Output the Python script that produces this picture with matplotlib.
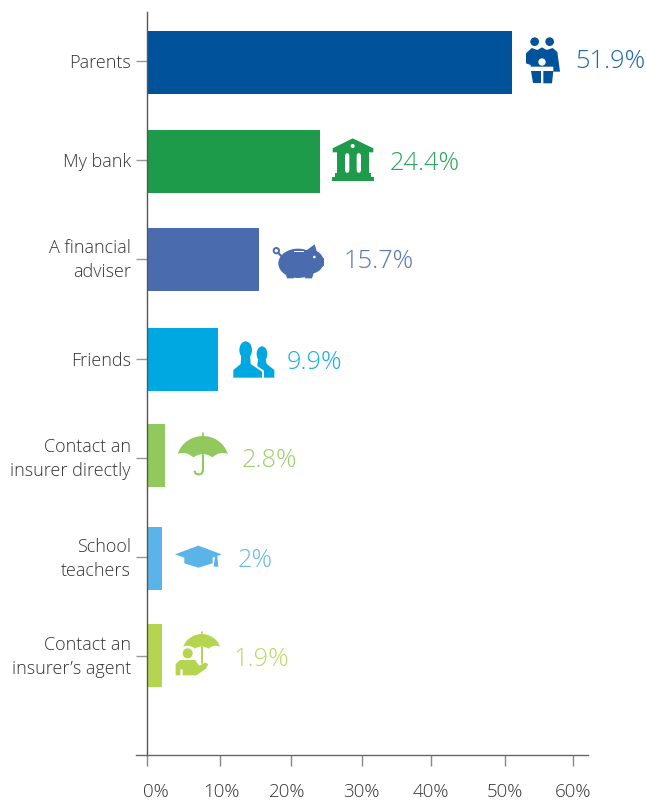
# survey chart with small icons next to each bar
import matplotlib
matplotlib.use('Agg')
import matplotlib.pyplot as plt
from matplotlib.patches import Circle, Ellipse, PathPatch, Polygon
from matplotlib.path import Path
from matplotlib.transforms import ScaledTranslation

# DATA
categories = ['Parents', 'My bank', 'A financial\nadviser', 'Friends',
              'Contact an\ninsurer directly', 'School\nteachers',
              'Contact an\ninsurer\u2019s agent']
bar_values = [51.4, 24.4, 15.8, 10.0, 2.6, 2.1, 2.1]
value_labels = ['51.9%', '24.4%', '15.7%', '9.9%', '2.8%', '2%', '1.9%']
tick_values = [0, 10.2, 20.2, 30.2, 40, 50.4, 60]
tick_labels = ['0%', '10%', '20%', '30%', '40%', '50%', '60%']

# STYLE
colors = ['#00539B', '#1E9A4B', '#4A6CAE', '#00A8E1', '#92C95E', '#5AB4E8', '#B5D44F']
text_colors = ['#1F68AB', '#2EA35C', '#5878B5', '#18AEE4', '#9CCF6C', '#68BBEA', '#BDD963']
label_gap = [63, 69, 84, 69, 76, 76, 72]     # px from bar end to value label
label_drop = [0, 2, 1, 3, 2, 3, 2]           # px
bar_shift = [1.5, 1.5, 0, 0.5, -2, 1.5, -0.5]  # px, bars sit a bit off their ticks
tick_label_shift = [8.5, 2, -3, 0, 0, 0, 0]  # px
cat_label_lift = [0, 0, 4, 0, 3.5, 2.5, 4]   # px
FONT = 'Open Sans'
W, H = 646, 800
PX = 72 / 100  # points per pixel

plt.rcParams['font.family'] = FONT

fig = plt.figure(figsize=(W / 100, H / 100), dpi=100)
ax = fig.add_axes([136 / W, (H - 755) / H, 452 / W, 743 / H])

row = 99.2
rows = range(len(categories))
centers = [r + bar_shift[r] / row for r in rows]
ax.barh(centers, bar_values, height=63 / row, color=colors, zorder=2)

ax.set_xlim(-11 / 7.108, 441 / 7.108)
ax.set_ylim((755 - 61) / row, (12 - 61) / row)

for side in ['top', 'right']:
    ax.spines[side].set_visible(False)
ax.spines['left'].set_position(('data', 0))
ax.spines['left'].set_color('#555555')
ax.spines['left'].set_linewidth(1.0)
ax.spines['bottom'].set_color('#666666')
ax.spines['bottom'].set_linewidth(1.0)

ax.set_yticks(list(rows))
ax.set_yticklabels(categories, fontsize=13, color='#333333', linespacing=1.42, fontweight='light')
ax.tick_params(axis='y', length=11 * PX, width=1.0, color='#999999', pad=5 * PX)
for lab, dy in zip(ax.get_yticklabels(), cat_label_lift):
    lab.set_transform(lab.get_transform() + ScaledTranslation(0, dy * PX / 72, fig.dpi_scale_trans))
ax.set_xticks(tick_values)
ax.set_xticklabels(tick_labels, fontsize=13.5, color='#333333', fontweight='light')
ax.tick_params(axis='x', length=11 * PX, width=1.0, color='#888888', pad=17 * PX)
for lab, dx in zip(ax.get_xticklabels(), tick_label_shift):
    lab.set_transform(lab.get_transform() + ScaledTranslation(dx * PX / 72, 0, fig.dpi_scale_trans))

for r in rows:
    ax.annotate(value_labels[r], (bar_values[r], r + 0.01),
                xytext=(label_gap[r] * PX, -label_drop[r] * PX),
                textcoords='offset points', va='center', ha='left',
                fontsize=18.3, color=text_colors[r], fontweight='light')

# ICONS, overlay in pixel coordinates of the figure
ov = fig.add_axes([0, 0, 1, 1], facecolor='none', zorder=5)
ov.set_xlim(0, W)
ov.set_ylim(H, 0)
ov.axis('off')


def zp(pts, ox, oy):
    return [(ox + x / 3, oy + y / 3) for x, y in pts]


def poly(pts, ox, oy, c):
    ov.add_patch(Polygon(zp(pts, ox, oy), closed=True, fc=c, ec='none'))


def disc(x, y, r, ox, oy, c):
    ov.add_patch(Circle((ox + x / 3, oy + y / 3), r / 3, fc=c, ec='none'))


def oval(x, y, w, h, ox, oy, c):
    ov.add_patch(Ellipse((ox + x / 3, oy + y / 3), w / 3, h / 3, fc=c, ec='none'))


def canopy(pts, codes, ox, oy, c):
    ov.add_patch(PathPatch(Path(zp(pts, ox, oy), codes), fc=c, ec='none'))


def line(pts, ox, oy, c, lw=1.5):
    xy = zp(pts, ox, oy)
    ov.plot([p[0] for p in xy], [p[1] for p in xy], color=c, lw=lw, solid_capstyle='round')


# family
c = colors[0]
ox, oy = 500, 20
disc(104, 65, 13, ox, oy, c)
disc(149, 65, 13, ox, oy, c)
poly([(78, 100), (95, 84), (112, 90), (126, 82), (140, 90), (158, 84), (172, 96), (180, 155),
      (160, 155), (160, 140), (92, 140), (92, 135), (78, 130)], ox, oy, c)
disc(126, 126, 11, ox, oy, 'white')
poly([(93, 153), (122, 153), (122, 190), (98, 190)], ox, oy, c)
poly([(130, 153), (160, 153), (156, 190), (130, 190)], ox, oy, c)

# bank
c = colors[1]
ox, oy = 310, 120
poly([(128, 55), (190, 85), (190, 97), (68, 97), (68, 85)], ox, oy, c)
disc(128, 78, 6, ox, oy, 'white')
poly([(82, 97), (178, 97), (178, 165), (82, 165)], ox, oy, c)
for x0, x1 in [(105, 118), (140, 153)]:
    poly([(x0 + 3, 100), (x1 - 3, 100), (x1, 106), (x1, 152), (x1 - 3, 158), (x0 + 3, 158), (x0, 152), (x0, 106)],
         ox, oy, 'white')
poly([(75, 160), (182, 160), (182, 172), (75, 172)], ox, oy, c)
poly([(66, 172), (192, 172), (192, 184), (66, 184)], ox, oy, c)

# piggy bank
c = colors[2]
ox, oy = 262, 235
oval(108, 85, 118, 88, ox, oy, c)
oval(145, 80, 80, 72, ox, oy, c)
poly([(135, 45), (158, 28), (168, 62)], ox, oy, c)
poly([(165, 62), (186, 70), (186, 92), (165, 105)], ox, oy, c)
poly([(68, 105), (105, 105), (95, 130), (75, 130)], ox, oy, c)
poly([(120, 105), (160, 100), (150, 130), (130, 130)], ox, oy, c)
ov.add_patch(Circle((ox + 43 / 3, oy + 47 / 3), 8 / 3, fc='none', ec=c, lw=1.4))
line([(50, 55), (60, 65)], ox, oy, c)
poly([(97, 47), (127, 47), (127, 52), (97, 52)], ox, oy, 'white')
disc(157, 66, 4, ox, oy, 'white')

# friends
c = colors[3]
ox, oy = 140, 330
oval(366, 72, 32, 46, ox, oy, c)
poly([(355, 88), (377, 88), (380, 102), (403, 120), (403, 143), (352, 143), (352, 102)], ox, oy, c)
poly([(276, 146), (276, 118), (302, 96), (334, 96), (372, 122), (372, 146)], ox, oy, 'white')
oval(317, 60, 38, 52, ox, oy, c)
poly([(304, 72), (330, 72), (332, 102), (366, 125), (366, 143), (280, 143), (280, 120), (302, 102)], ox, oy, c)

# umbrella
UMB = [Path.MOVETO, Path.CURVE4, Path.CURVE4, Path.CURVE4, Path.CURVE4, Path.CURVE4, Path.CURVE4,
       Path.CURVE3, Path.CURVE3, Path.CURVE3, Path.CURVE3, Path.CURVE3, Path.CURVE3, Path.CLOSEPOLY]
c = colors[4]
canopy([(113, 372), (125, 335), (160, 318), (188, 318), (220, 318), (250, 335), (264, 372),
        (240, 362), (217, 382), (190, 362), (160, 382), (137, 362), (113, 372), (113, 372)],
       UMB, ox, oy, c)
line([(188, 310), (188, 320)], ox, oy, c, lw=1.2)
line([(188, 375), (188, 422)], ox, oy, c)
ov.add_patch(PathPatch(Path(zp([(188, 422), (188, 433), (176, 433), (164, 433), (164, 422)], ox, oy),
                            [Path.MOVETO, Path.CURVE3, Path.CURVE3, Path.CURVE3, Path.CURVE3]),
                       fc='none', ec=c, lw=1.5))

# graduation cap
c = colors[5]
ox, oy = 140, 520
poly([(133, 112), (218, 112), (218, 130), (175, 143), (133, 130)], ox, oy, c)
poly([(105, 103), (175, 77), (245, 103), (175, 128)], ox, oy, c)
poly([(225, 108), (232, 108), (235, 140), (221, 140)], ox, oy, c)

# insurer's agent
c = colors[6]
canopy([(130, 380), (138, 355), (165, 342), (185, 342), (207, 342), (232, 355), (240, 380),
        (222, 372), (205, 386), (185, 372), (165, 386), (148, 372), (130, 380), (130, 380)],
       UMB, ox, oy, c)
line([(185, 336), (185, 344)], ox, oy, c, lw=1.2)
line([(185, 380), (185, 428)], ox, oy, c)
disc(143, 400, 15, ox, oy, c)
poly([(107, 466), (107, 432), (120, 420), (165, 420), (178, 437), (195, 428), (205, 432), (198, 446),
      (175, 462), (168, 466), (128, 466), (128, 448), (121, 448), (121, 466)], ox, oy, c)

fig.savefig('out.png', dpi=100)
